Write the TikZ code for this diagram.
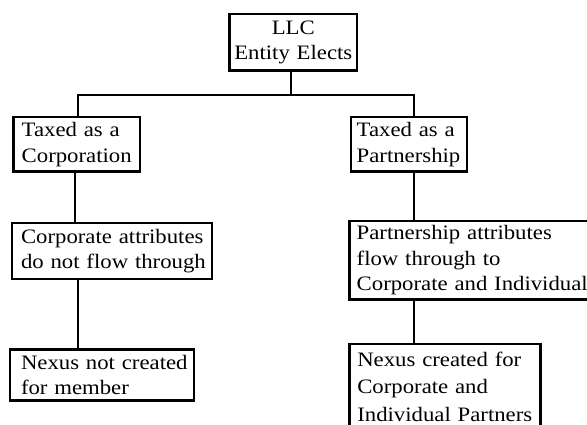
\documentclass[tikz,border=0pt]{standalone}
\usepackage{fontspec}
\setmainfont{Liberation Serif}[FakeStretch=1.11]
\begin{document}
\begin{tikzpicture}[x=1pt,y=-1pt,
  box/.style={draw, line width=2.5pt, outer sep=0pt, inner ysep=0pt,
    anchor=north west, align=left,
    font=\fontsize{20.5}{25.5}\selectfont},
  conn/.style={line width=2pt}]
\clip (0,0) rectangle (587,424);
\fill[white] (0,0) rectangle (587,424);
% boxes
\node[box, align=center, inner xsep=4pt, text width=119.8pt, minimum height=56.8pt] (top) at (229.4,13.8) {\mbox{LLC}\\\mbox{Entity Elects}};
\node[box, inner xsep=8.3pt, text width=110.2pt, minimum height=54.5pt] (tcorp) at (13.4,117.1) {\mbox{Taxed as a}\\\mbox{Corporation}};
\node[box, inner xsep=5.6pt, text width=104.9pt, minimum height=54.5pt] (tpart) at (351.1,117.1) {\mbox{Taxed as a}\\\mbox{Partnership}};
\node[box, inner xsep=8.9pt, text width=182.3pt, minimum height=56.1pt] (corpattr) at (12.1,222.8) {\mbox{Corporate attributes}\\\mbox{do not flow through}};
\node[box, inner xsep=7.3pt, text width=260pt, minimum height=78.5pt] (partattr) at (349.4,221.1) {\mbox{Partnership attributes}\\\mbox{flow through to}\\\mbox{Corporate and Individual}};
\node[box, inner xsep=10.9pt, text width=162pt, minimum height=51.2pt] (nexusno) at (10.1,349.4) {\mbox{Nexus not created}\\\mbox{for member}};
\node[box, inner xsep=7.9pt, text width=175.4pt, minimum height=85.8pt] (nexusyes) at (349.4,343.8) {\mbox{Nexus created for}\\[1.5pt]\mbox{Corporate and}\\[2.5pt]\mbox{Individual Partners}};
% connectors
\coordinate (j) at (291.3,94.8);
\coordinate (jl) at (77.5,94.8);
\coordinate (jr) at (413.8,94.8);
\draw[conn] (top.south -| j) -- (j);
\draw[conn] (tcorp.north -| jl) -- (jl) -- (jr) -- (tpart.north -| jr);
\coordinate (xa) at (75.3,0);
\coordinate (xb) at (78.3,0);
\coordinate (xc) at (414,0);
\draw[conn] (tcorp.south -| xa) -- (corpattr.north -| xa);
\draw[conn] (corpattr.south -| xb) -- (nexusno.north -| xb);
\draw[conn] (tpart.south -| xc) -- (partattr.north -| xc);
\draw[conn] (partattr.south -| xc) -- (nexusyes.north -| xc);
\end{tikzpicture}
\end{document}
